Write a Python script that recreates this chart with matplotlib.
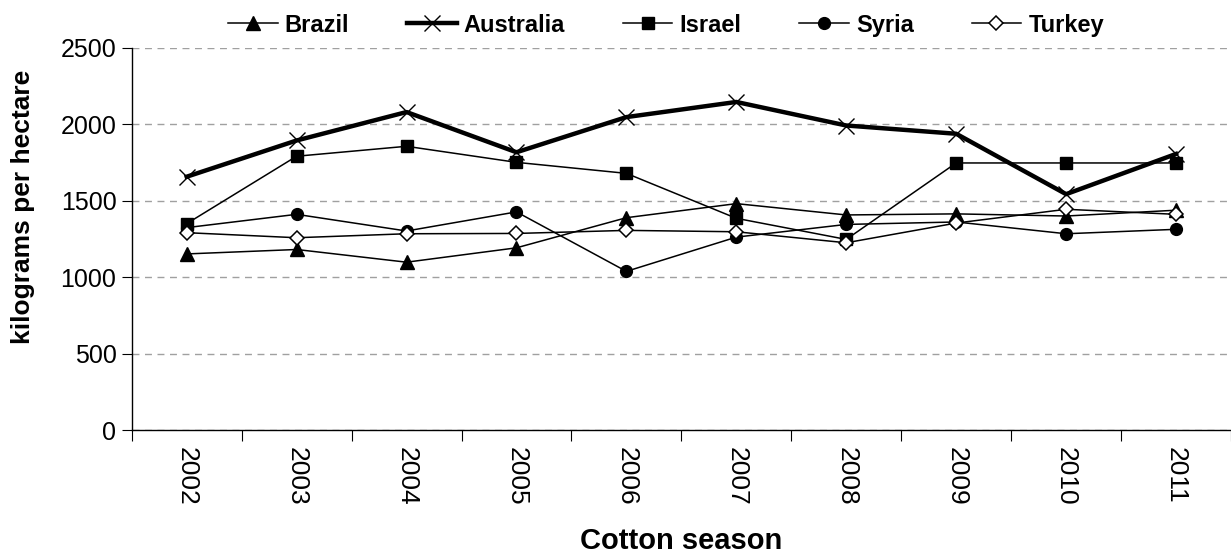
import matplotlib.pyplot as plt
from matplotlib.ticker import FixedLocator, MultipleLocator

plt.rcParams['font.family'] = ['Liberation Sans', 'DejaVu Sans']

seasons = ["2002", "2003", "2004", "2005", "2006", "2007", "2008", "2009", "2010", "2011"]
brazil = [1153, 1182, 1099, 1193, 1390, 1482, 1408, 1415, 1401, 1439]
australia = [1658, 1895, 2081, 1818, 2048, 2147, 1993, 1939, 1544, 1807]
israel = [1351, 1792, 1857, 1752, 1680, 1386, 1248, 1748, 1748, 1748]
syria = [1325, 1412, 1303, 1428, 1039, 1263, 1346, 1362, 1285, 1314]
turkey = [1292, 1259, 1285, 1287, 1307, 1298, 1226, 1355, 1445, 1412]

fig = plt.figure(figsize=(12.31, 5.58), dpi=100)
ax = fig.add_axes([0.107, 0.229, 0.893, 0.685])

x = range(len(seasons))
ax.plot(x, brazil, color="black", lw=1.1, marker="^", ms=10, label="Brazil")
ax.plot(x, australia, color="black", lw=3.2, marker="x", ms=12, mew=1.0, label="Australia")
ax.plot(x, israel, color="black", lw=1.1, marker="s", ms=8.5, label="Israel")
ax.plot(x, syria, color="black", lw=1.1, marker="o", ms=8.5, label="Syria")
ax.plot(x, turkey, color="black", lw=1.1, marker="D", ms=7.5, mfc="white", mew=1.1, label="Turkey")

ax.set_xlim(-0.5, len(seasons) - 0.5)
ax.set_ylim(0, 2500)
ax.yaxis.set_major_locator(MultipleLocator(500))
ax.grid(axis="y", color="#a0a0a0", linestyle=(0, (5, 4)), linewidth=1.0)
ax.set_axisbelow(True)

# year labels centred on categories, tick marks on the boundaries
ax.set_xticks(list(x))
ax.set_xticklabels(seasons, rotation=270, fontsize=19)
ax.xaxis.set_minor_locator(FixedLocator([i - 0.5 for i in range(len(seasons) + 1)]))
ax.tick_params(axis="x", which="major", length=0, pad=12)
ax.tick_params(axis="x", which="minor", length=8, width=0.8, direction="out")
ax.tick_params(axis="y", labelsize=18, length=7, width=0.8, pad=4)

for side in ["top", "right"]:
    ax.spines[side].set_visible(False)
ax.spines["left"].set_linewidth(1.0)
ax.spines["bottom"].set_linewidth(1.0)

ax.set_ylabel("kilograms per hectare", fontsize=19, fontweight="bold", va="center")
ax.yaxis.set_label_coords(-0.099, 0.584)
ax.set_xlabel("Cotton season", fontsize=21, fontweight="bold", va="center")
ax.xaxis.set_label_coords(0.5, -0.29)

fig.legend(loc="center", bbox_to_anchor=(0.541, 0.955), ncol=5, frameon=False,
           prop={"weight": "bold", "size": 17}, handlelength=2.1, columnspacing=2.45,
           handletextpad=0.3)

fig.savefig("out.png", dpi=100)
